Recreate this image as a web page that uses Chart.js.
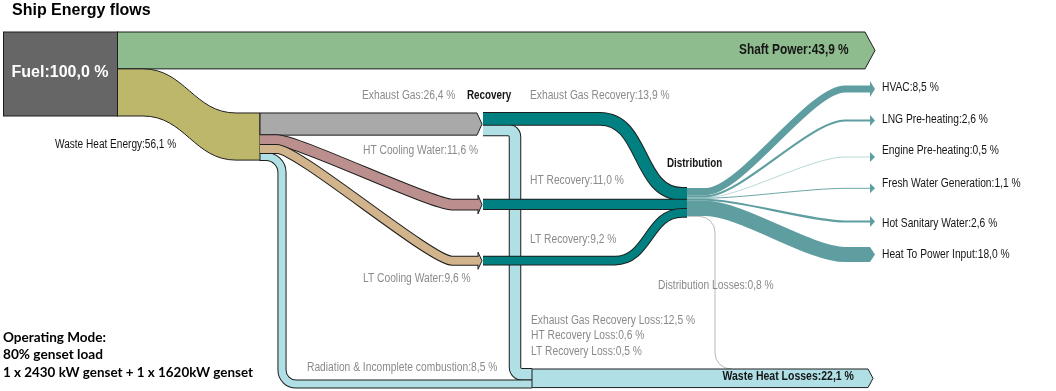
<!DOCTYPE html>
<html><head><meta charset="utf-8">
<script src="https://cdn.jsdelivr.net/npm/chart.js@4/dist/chart.umd.min.js"></script>
<style>html,body{margin:0;padding:0;background:#fff;overflow:hidden}canvas{display:block}</style>
</head><body>
<canvas id="c" width="1056" height="391"></canvas>
<script>
// ---------------- DATA (percent of fuel energy) ----------------
const TITLE = 'Ship Energy flows';
const FUEL_LABEL = 'Fuel';
const FUEL_VALUE = 100.0;
const MAIN_LABELS = ['Shaft Power', 'Waste Heat Energy'];
const MAIN_VALUES = [43.9, 56.1];
const WASTE_HEAT_LABELS = ['Exhaust Gas', 'HT Cooling Water', 'LT Cooling Water', 'Radiation & Incomplete combustion'];
const WASTE_HEAT_VALUES = [26.4, 11.6, 9.6, 8.5];
const RECOVERY_LABELS = ['Exhaust Gas Recovery', 'HT Recovery', 'LT Recovery'];
const RECOVERY_VALUES = [13.9, 11.0, 9.2];
const RECOVERY_LOSS_LABELS = ['Exhaust Gas Recovery Loss', 'HT Recovery Loss', 'LT Recovery Loss'];
const RECOVERY_LOSS_VALUES = [12.5, 0.6, 0.5];
const DISTRIBUTION_LABELS = ['HVAC', 'LNG Pre-heating', 'Engine Pre-heating', 'Fresh Water Generation', 'Hot Sanitary Water', 'Heat To Power Input'];
const DISTRIBUTION_VALUES = [8.5, 2.6, 0.5, 1.1, 2.6, 18.0];
const DISTRIBUTION_LOSS_LABEL = 'Distribution Losses';
const DISTRIBUTION_LOSS_VALUE = 0.8;
const WASTE_LOSSES_LABEL = 'Waste Heat Losses';
const WASTE_LOSSES_VALUE = 22.1;
const PROCESS_LABELS = ['Recovery', 'Distribution'];
const NOTE_LINES = ['Operating Mode:', '80% genset load', '1 x 2430 kW genset + 1 x 1620kW genset'];

// ---------------- LAYOUT (x in px units, y in % units of the y scale) ----------------
const LAYOUT = {
  fuelX: [3, 117], fuelTop: 38.1,
  wasteX: 260, wasteTop: 134.5,
  recX: 483, recArrowBody: 478, recArrowTip: 482,
  distX: 687, distTop: 223.8,
  ltRecTop: 305.6,
  wasteLossX: 532, wasteLossTop: 439.3,
  rightBody: 870, rightTip: 875,
  targetCenters: [105.95, 143.45, 186.9, 224.2, 263.7, 303.0],
  radiationX: 282, egLossX: 515, distLossX: 715, distLossEndX: 732
};
const COLORS = {
  fuel: '#666666', shaft: '#8fbc8f', waste: '#bdb76b', exhaust: '#a9a9a9',
  ht: '#bc8f8f', lt: '#d2b48c', loss: '#b0e0e6', rec: '#008080', dist: '#5f9ea0',
  distLoss: '#b8b8b8', outline: '#1e1e1e', grayText: '#8a8a8a', darkText: '#151515'
};
const SANS = "'Liberation Sans', Arial, sans-serif";
const NARROW_SCALE = 0.82;
const fmt = v => v.toFixed(1).replace('.', ',') + ' %';
const sum = a => a.reduce((s, v) => s + v, 0);

const sankeyPlugin = {
  id: 'sankey',
  afterDraw(chart) {
    const ctx = chart.ctx, xs = chart.scales.x, ys = chart.scales.y;
    const X = v => xs.getPixelForValue(v);
    const Y = v => ys.getPixelForValue(v);
    const T = v => Math.abs(ys.getPixelForValue(v) - ys.getPixelForValue(0));
    const L = LAYOUT;
    const headH = t => t >= 14 ? t / 2 : Math.max(5, t / 2 + 4.5);
    const headL = t => t > 30 ? 10 : 5;

    ctx.save();
    ctx.lineCap = 'butt'; ctx.lineJoin = 'miter';

    function straightArrow(x0, yt, x1, t, color) {
      const yc = yt + t / 2, yb = yt + t, H = headH(t), hl = headL(t);
      ctx.beginPath();
      ctx.moveTo(x0, yt); ctx.lineTo(x1, yt);
      if (H > t / 2) ctx.lineTo(x1, yc - H);
      ctx.lineTo(x1 + hl, yc);
      if (H > t / 2) ctx.lineTo(x1, yc + H);
      ctx.lineTo(x1, yb); ctx.lineTo(x0, yb); ctx.closePath();
      ctx.fillStyle = color; ctx.fill();
      ctx.lineWidth = 1; ctx.strokeStyle = COLORS.outline; ctx.stroke();
    }
    function arrowHead(x1, yc, t, color, outline, tip) {
      const H = headH(t), hl = tip - x1;
      ctx.beginPath();
      ctx.moveTo(x1, yc - t / 2); ctx.lineTo(x1, yc - H); ctx.lineTo(x1 + hl, yc);
      ctx.lineTo(x1, yc + H); ctx.lineTo(x1, yc + t / 2);
      ctx.fillStyle = color; ctx.fill();
      if (outline) { ctx.lineWidth = 1; ctx.strokeStyle = COLORS.outline; ctx.stroke(); }
    }
    function sPath(x0, y0, xa, xb, y1, x1, f) {
      const dx = xb - xa;
      return () => {
        ctx.beginPath(); ctx.moveTo(x0, y0); ctx.lineTo(xa, y0);
        ctx.bezierCurveTo(xa + f * dx, y0, xb - f * dx, y1, xb, y1);
        ctx.lineTo(x1, y1);
      };
    }
    function routePath(pts, radii) {
      return () => {
        ctx.beginPath(); ctx.moveTo(pts[0][0], pts[0][1]);
        for (let i = 1; i < pts.length - 1; i++) ctx.arcTo(pts[i][0], pts[i][1], pts[i + 1][0], pts[i + 1][1], radii[i - 1]);
        ctx.lineTo(pts[pts.length - 1][0], pts[pts.length - 1][1]);
      };
    }
    function strokeBand(path, t, color, outline) {
      if (outline) { path(); ctx.lineWidth = t + 2; ctx.strokeStyle = COLORS.outline; ctx.stroke(); }
      path(); ctx.lineWidth = t; ctx.strokeStyle = color; ctx.stroke();
    }
    function text(s, x, y, font, color, align, sx) {
      ctx.save();
      ctx.font = font; ctx.fillStyle = color; ctx.textAlign = align || 'left'; ctx.textBaseline = 'middle';
      ctx.translate(x, y); ctx.scale(sx == null ? NARROW_SCALE : sx, 1);
      ctx.fillText(s, 0, 0);
      ctx.restore();
    }

    const htRecTop = L.distTop + RECOVERY_VALUES[0];
    const [egV, htV, ltV, radV] = WASTE_HEAT_VALUES;
    const [egRecV, htRecV, ltRecV] = RECOVERY_VALUES;
    const [egLossV, htLossV, ltLossV] = RECOVERY_LOSS_VALUES;

    // ---- losses routed to "Waste Heat Losses" (drawn first, under the others) ----
    const wl = L.wasteLossTop;
    strokeBand(routePath([[X(L.recX), Y(htRecTop + htRecV + htLossV / 2)], [X(L.egLossX), Y(htRecTop + htRecV + htLossV / 2)], [X(L.egLossX), Y(wl + egLossV + htLossV / 2)], [X(L.wasteLossX), Y(wl + egLossV + htLossV / 2)]], [7, 7]), T(htLossV), COLORS.loss, false);
    strokeBand(routePath([[X(L.recX), Y(L.ltRecTop + ltRecV + ltLossV / 2)], [X(L.egLossX), Y(L.ltRecTop + ltRecV + ltLossV / 2)], [X(L.egLossX), Y(wl + egLossV + htLossV + ltLossV / 2)], [X(L.wasteLossX), Y(wl + egLossV + htLossV + ltLossV / 2)]], [7, 7]), T(ltLossV), COLORS.loss, false);
    strokeBand(routePath([[X(L.recX), Y(L.wasteTop + egRecV + egLossV / 2)], [X(L.egLossX), Y(L.wasteTop + egRecV + egLossV / 2)], [X(L.egLossX), Y(wl + egLossV / 2)], [X(L.wasteLossX), Y(wl + egLossV / 2)]], [7, 7]), T(egLossV), COLORS.loss, true);
    const radSrc = L.wasteTop + egV + htV + ltV + radV / 2;
    const radDst = wl + egLossV + htLossV + ltLossV + radV / 2;
    strokeBand(routePath([[X(L.wasteX) - 0.5, Y(radSrc)], [X(L.radiationX), Y(radSrc)], [X(L.radiationX), Y(radDst)], [X(L.wasteLossX), Y(radDst)]], [16, 14]), T(radV), COLORS.loss, true);

    // distribution losses thin line
    const dlY = Y(L.distTop + sum(DISTRIBUTION_VALUES) + DISTRIBUTION_LOSS_VALUE / 2);
    routePath([[X(L.distX), dlY], [X(L.distLossX), dlY], [X(L.distLossX), Y(wl)], [X(L.distLossEndX), Y(wl)]], [16, 16])();
    ctx.lineWidth = Math.max(1, T(DISTRIBUTION_LOSS_VALUE)); ctx.strokeStyle = COLORS.distLoss; ctx.stroke();

    // ---- shaft power ----
    straightArrow(X(L.fuelX[1]), Y(L.fuelTop), X(865), T(MAIN_VALUES[0]), COLORS.shaft);

    // ---- waste heat energy (olive) ----
    {
      const x0 = X(L.fuelX[1]), x1 = X(L.wasteX), xa = X(143), xb = X(236), f = 0.45, dx = xb - xa;
      const y0 = Y(L.fuelTop + MAIN_VALUES[0]), y1 = Y(L.wasteTop), t = T(MAIN_VALUES[1]);
      ctx.beginPath();
      ctx.moveTo(x0, y0); ctx.lineTo(xa, y0);
      ctx.bezierCurveTo(xa + f * dx, y0, xb - f * dx, y1, xb, y1);
      ctx.lineTo(x1, y1); ctx.lineTo(x1, y1 + t); ctx.lineTo(xb, y1 + t);
      ctx.bezierCurveTo(xb - f * dx, y1 + t, xa + f * dx, y0 + t, xa, y0 + t);
      ctx.lineTo(x0, y0 + t); ctx.closePath();
      ctx.fillStyle = COLORS.waste; ctx.fill();
      ctx.lineWidth = 1; ctx.strokeStyle = COLORS.outline; ctx.stroke();
    }

    // ---- fuel node ----
    ctx.fillStyle = COLORS.fuel;
    ctx.fillRect(X(L.fuelX[0]), Y(L.fuelTop), X(L.fuelX[1]) - X(L.fuelX[0]), T(FUEL_VALUE));
    ctx.lineWidth = 1; ctx.strokeStyle = COLORS.outline;
    ctx.strokeRect(X(L.fuelX[0]) + 0.5, Y(L.fuelTop), X(L.fuelX[1]) - X(L.fuelX[0]), T(FUEL_VALUE));

    // ---- waste heat outflows ----
    straightArrow(X(L.wasteX), Y(L.wasteTop), X(477), T(egV), COLORS.exhaust);
    {
      const s = Y(L.wasteTop + egV + htV / 2), d = Y(htRecTop + htV / 2), t = T(htV);
      strokeBand(sPath(X(L.wasteX), s, X(277), X(452), d, X(L.recArrowBody), 0.12), t, COLORS.ht, true);
      arrowHead(X(L.recArrowBody), d, t, COLORS.ht, true, X(L.recArrowTip));
    }
    {
      const s = Y(L.wasteTop + egV + htV + ltV / 2), d = Y(L.ltRecTop + ltV / 2), t = T(ltV);
      strokeBand(sPath(X(L.wasteX), s, X(277), X(452), d, X(L.recArrowBody), 0.12), t, COLORS.lt, true);
      arrowHead(X(L.recArrowBody), d, t, COLORS.lt, true, X(L.recArrowTip));
    }

    // ---- recovery flows (teal) ----
    strokeBand(sPath(X(L.recX), Y(L.wasteTop + egRecV / 2), X(600), X(682), Y(L.distTop + egRecV / 2), X(L.distX), 0.55), T(egRecV), COLORS.rec, true);
    strokeBand(sPath(X(L.recX), Y(htRecTop + htRecV / 2), X(600), X(682), Y(L.distTop + egRecV + htRecV / 2), X(L.distX), 0.5), T(htRecV), COLORS.rec, true);
    strokeBand(sPath(X(L.recX), Y(L.ltRecTop + ltRecV / 2), X(615), X(682), Y(L.distTop + egRecV + htRecV + ltRecV / 2), X(L.distX), 0.5), T(ltRecV), COLORS.rec, true);

    // ---- distribution fans ----
    let cum = L.distTop;
    DISTRIBUTION_VALUES.forEach((v, i) => {
      const t = T(v), s = Y(cum + v / 2), d = Y(L.targetCenters[i]);
      cum += v;
      strokeBand(sPath(X(L.distX), s, X(706), X(845), d, X(L.rightBody), 0.25), t, COLORS.dist, false);
      arrowHead(X(L.rightBody), d, t, COLORS.dist, false, X(L.rightTip));
    });

    // ---- waste heat losses ----
    straightArrow(X(L.wasteLossX), Y(wl), X(868), T(WASTE_LOSSES_VALUE), COLORS.loss);

    // ---- texts ----
    const R = `12.5px ${SANS}`, B = `bold 12px ${SANS}`;
    text(TITLE, 12, 10.5, `bold 16px ${SANS}`, '#000', 'left', 1);
    text(`${FUEL_LABEL}:${fmt(FUEL_VALUE)}`, 60, 73, `bold 16px ${SANS}`, '#ffffff', 'center', 1);
    text(`${MAIN_LABELS[0]}:${fmt(MAIN_VALUES[0])}`, 739, 50, `bold 14.5px ${SANS}`, COLORS.darkText);
    text(`${MAIN_LABELS[1]}:${fmt(MAIN_VALUES[1])}`, 55, 145, `12.3px ${SANS}`, COLORS.darkText);
    text(`${WASTE_HEAT_LABELS[0]}:${fmt(egV)}`, 362, 95.5, R, COLORS.grayText);
    text(PROCESS_LABELS[0], 467, 95.5, B, COLORS.darkText);
    text(`${RECOVERY_LABELS[0]}:${fmt(egRecV)}`, 530, 95.5, R, COLORS.grayText);
    text(`${WASTE_HEAT_LABELS[1]}:${fmt(htV)}`, 363, 151, R, COLORS.grayText);
    text(`${RECOVERY_LABELS[1]}:${fmt(htRecV)}`, 530, 181, R, COLORS.grayText);
    text(`${RECOVERY_LABELS[2]}:${fmt(ltRecV)}`, 530, 239.5, R, COLORS.grayText);
    text(PROCESS_LABELS[1], 667, 163.5, B, COLORS.darkText);
    text(`${WASTE_HEAT_LABELS[2]}:${fmt(ltV)}`, 363, 278.5, R, COLORS.grayText);
    text(`${DISTRIBUTION_LOSS_LABEL}:${fmt(DISTRIBUTION_LOSS_VALUE)}`, 658, 286, R, COLORS.grayText);
    RECOVERY_LOSS_LABELS.forEach((l, i) => text(`${l}:${fmt(RECOVERY_LOSS_VALUES[i])}`, 531, 320.5 + i * 15.5, R, COLORS.grayText));
    text(`${WASTE_HEAT_LABELS[3]}:${fmt(radV)}`, 307, 367.5, R, COLORS.grayText);
    text(`${WASTE_LOSSES_LABEL}:${fmt(WASTE_LOSSES_VALUE)}`, 722.5, 376.5, `bold 12.8px ${SANS}`, COLORS.darkText);
    const labelYs = [87.3, 120, 150.7, 183.3, 223.3, 255];
    DISTRIBUTION_LABELS.forEach((l, i) => text(`${l}:${fmt(DISTRIBUTION_VALUES[i])}`, 882, labelYs[i], R, COLORS.darkText));
    const noteW = [103, 100, 250];
    NOTE_LINES.forEach((l, i) => {
      ctx.font = "bold 14px Lato, 'Open Sans', sans-serif"; ctx.fillStyle = '#000'; ctx.textAlign = 'left'; ctx.textBaseline = 'alphabetic';
      ctx.fillText(l, 3, 341.5 + i * 17.8, noteW[i]);
    });
    ctx.restore();
  }
};

new Chart(document.getElementById('c'), {
  type: 'scatter',
  data: { datasets: [] },
  options: {
    responsive: false, animation: false, devicePixelRatio: 1,
    layout: { padding: 0 },
    plugins: { legend: { display: false }, tooltip: { enabled: false }, title: { display: false } },
    scales: {
      x: { type: 'linear', min: 0, max: 1056, display: false },
      y: { type: 'linear', min: 0, max: 391 / 0.84, reverse: true, display: false }
    }
  },
  plugins: [{ id: 'bg', beforeDraw(c) { c.ctx.save(); c.ctx.fillStyle = '#fff'; c.ctx.fillRect(0, 0, c.width, c.height); c.ctx.restore(); } }, sankeyPlugin]
});
</script>
</body></html>
